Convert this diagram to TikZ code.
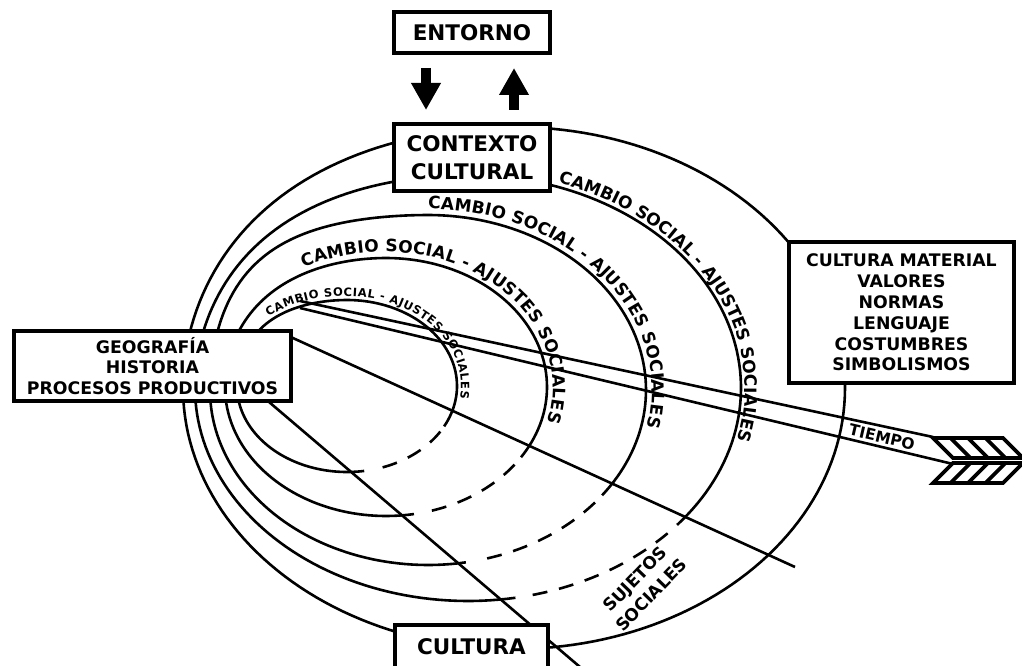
\documentclass[tikz,border=0pt]{standalone}
\usepackage{fontspec}
\setmainfont{DejaVu Sans}
\usetikzlibrary{decorations.text,arrows.meta}
\newcommand\myBigF{\bfseries\fontsize{21.5}{28}\selectfont}
\newcommand\myMidF{\bfseries\fontsize{17.3}{20.8}\selectfont}
\newcommand\myLblF{\bfseries\fontsize{17}{17}\selectfont}
\newcommand\myTinyF{\bfseries\fontsize{11.5}{11.5}\selectfont}
\begin{document}
\begin{tikzpicture}[x=1pt,y=-1pt,
  declare function={
    bl(\qt)=(cos(\qt)<0)*(sin(\qt)<0)*sin(2*\qt)*sin(2*\qt)*0.7071;
    ex(\qt,\qc,\qr,\qb)=\qc+\qr*cos(\qt)-\qb*bl(\qt);
    ey(\qt,\qc,\qr,\qb)=\qc+\qr*sin(\qt)-\qb*bl(\qt);
  },
  curve/.style={line width=2.6pt},
  dcurve/.style={line width=2.6pt, dash pattern=on 15pt off 12pt},
  box/.style={draw, line width=4.5pt, fill=white, align=center, inner sep=0pt},
  blockarrow/.style={line width=10pt, -{Triangle[width=28pt,length=27pt]}},
  hatch/.style={line width=3.6pt, line join=miter},
]
\useasboundingbox (0,0) rectangle (1022,666);

% ellipses
\draw[curve] plot[domain=0:360, samples=200] ({ex(\x,514,331,5)},{ey(\x,388,261,5)}) -- cycle;
\draw[curve] plot[domain=80:400, samples=180] ({ex(\x,468,273,6)},{ey(\x,388,213,6)});
\draw[dcurve] plot[domain=403:437, samples=30] ({ex(\x,468,273,6)},{ey(\x,388,213,6)});
\draw[curve] plot[domain=80:397, samples=180] ({ex(\x,428,218,14)},{ey(\x,390,175,14)});
\draw[dcurve] plot[domain=400:437, samples=30] ({ex(\x,428,218,14)},{ey(\x,390,175,14)});
\draw[curve] plot[domain=80:393, samples=160] ({ex(\x,386,161,3)},{ey(\x,387,129,3)});
\draw[dcurve] plot[domain=397:436, samples=30] ({ex(\x,386,161,3)},{ey(\x,387,129,3)});
\draw[curve] plot[domain=81:388, samples=140] ({ex(\x,347,110,3)},{ey(\x,386,86,3)});
\draw[dcurve] plot[domain=392:436, samples=30] ({ex(\x,347,110,3)},{ey(\x,386,86,3)});

% radial lines
\coordinate (l1a) at (262,396);
\coordinate (l1b) at (580,667);
\coordinate (l2a) at (285,334.4);
\coordinate (l2b) at (795,567);
\draw[curve] (l1a) -- (l1b);
\draw[curve] (l2a) -- (l2b);

% time arrow shaft
\coordinate (tu0) at (300,301);
\coordinate (tu1) at (933,437);
\coordinate (tl0) at (300,308);
\coordinate (tl1) at (953,464);
\draw[curve] (tu0) -- (tu1);
\draw[curve] (tl0) -- (tl1);

% fletching
\draw[hatch] (933,438) -- (1003,438) -- (1023,458) -- (953,458) -- cycle;
\foreach \hx in {950.5,968,985.5} \draw[hatch] (\hx,438) -- (\hx+20,458);
\draw[hatch] (953,463) -- (1023,463) -- (1003,483) -- (933,483) -- cycle;
\foreach \hx in {950.5,968,985.5} \draw[hatch] (\hx+20,463) -- (\hx,483);

% boxes
\node[box, font=\myBigF, minimum width=156pt, minimum height=41pt] (ent) at (472,32.5) {ENTORNO};
\node[box, font=\myBigF, minimum width=156pt, minimum height=67pt] (ctx) at (472,157.5) {CONTEXTO\\CULTURAL};
\node[box, font=\myMidF, minimum width=225pt, minimum height=141pt] (mat) at (901.5,312.5) {CULTURA MATERIAL\\VALORES\\NORMAS\\LENGUAJE\\COSTUMBRES\\SIMBOLISMOS};
\node[box, font=\myMidF, minimum width=277pt, minimum height=70pt] (geo) at (152.5,366) {GEOGRAFÍA\\HISTORIA\\PROCESOS PRODUCTIVOS};
\node[box, font=\myBigF, minimum width=153pt, minimum height=43pt] (cul) at (471.5,646.5) {CULTURA};

% arrows between ENTORNO and CONTEXTO
\coordinate (a1) at (426,68);
\coordinate (a2) at (426,110);
\coordinate (b1) at (514,110);
\coordinate (b2) at (514,68);
\draw[blockarrow] (a1) -- (a2);
\draw[blockarrow] (b1) -- (b2);

% curved labels
\path[decorate, decoration={text along path, text align={fit to path},
  text={|\myLblF|CAMBIO SOCIAL - AJUSTES SOCIALES}}]
  plot[domain=289:374, samples=90] ({ex(\x,468,277,6)},{ey(\x,388,217,6)});
\path[decorate, decoration={text along path, text align={fit to path},
  text={|\myLblF|CAMBIO SOCIAL - AJUSTES SOCIALES}}]
  plot[domain=270:372, samples=90] ({ex(\x,428,224,14)},{ey(\x,390,181,14)});
\path[decorate, decoration={text along path, text align={fit to path},
  text={|\myLblF|CAMBIO SOCIAL - AJUSTES SOCIALES}}]
  plot[domain=241:375, samples=90] ({ex(\x,386,167,3)},{ey(\x,387,135,3)});
\path[decorate, decoration={text along path, text align={fit to path},
  text={|\myTinyF|CAMBIO SOCIAL - AJUSTES SOCIALES}}]
  plot[domain=228:368, samples=90] ({ex(\x,347,114,3)},{ey(\x,386,90,3)});

% plain labels
\node[rotate=-13, font=\bfseries\fontsize{15.5}{15.5}\selectfont] (tie) at (882,437) {TIEMPO};
\node[rotate=46, align=center, font=\bfseries\fontsize{17}{23}\selectfont] (suj) at (643,587) {SUJETOS\\SOCIALES};
\end{tikzpicture}
\end{document}
